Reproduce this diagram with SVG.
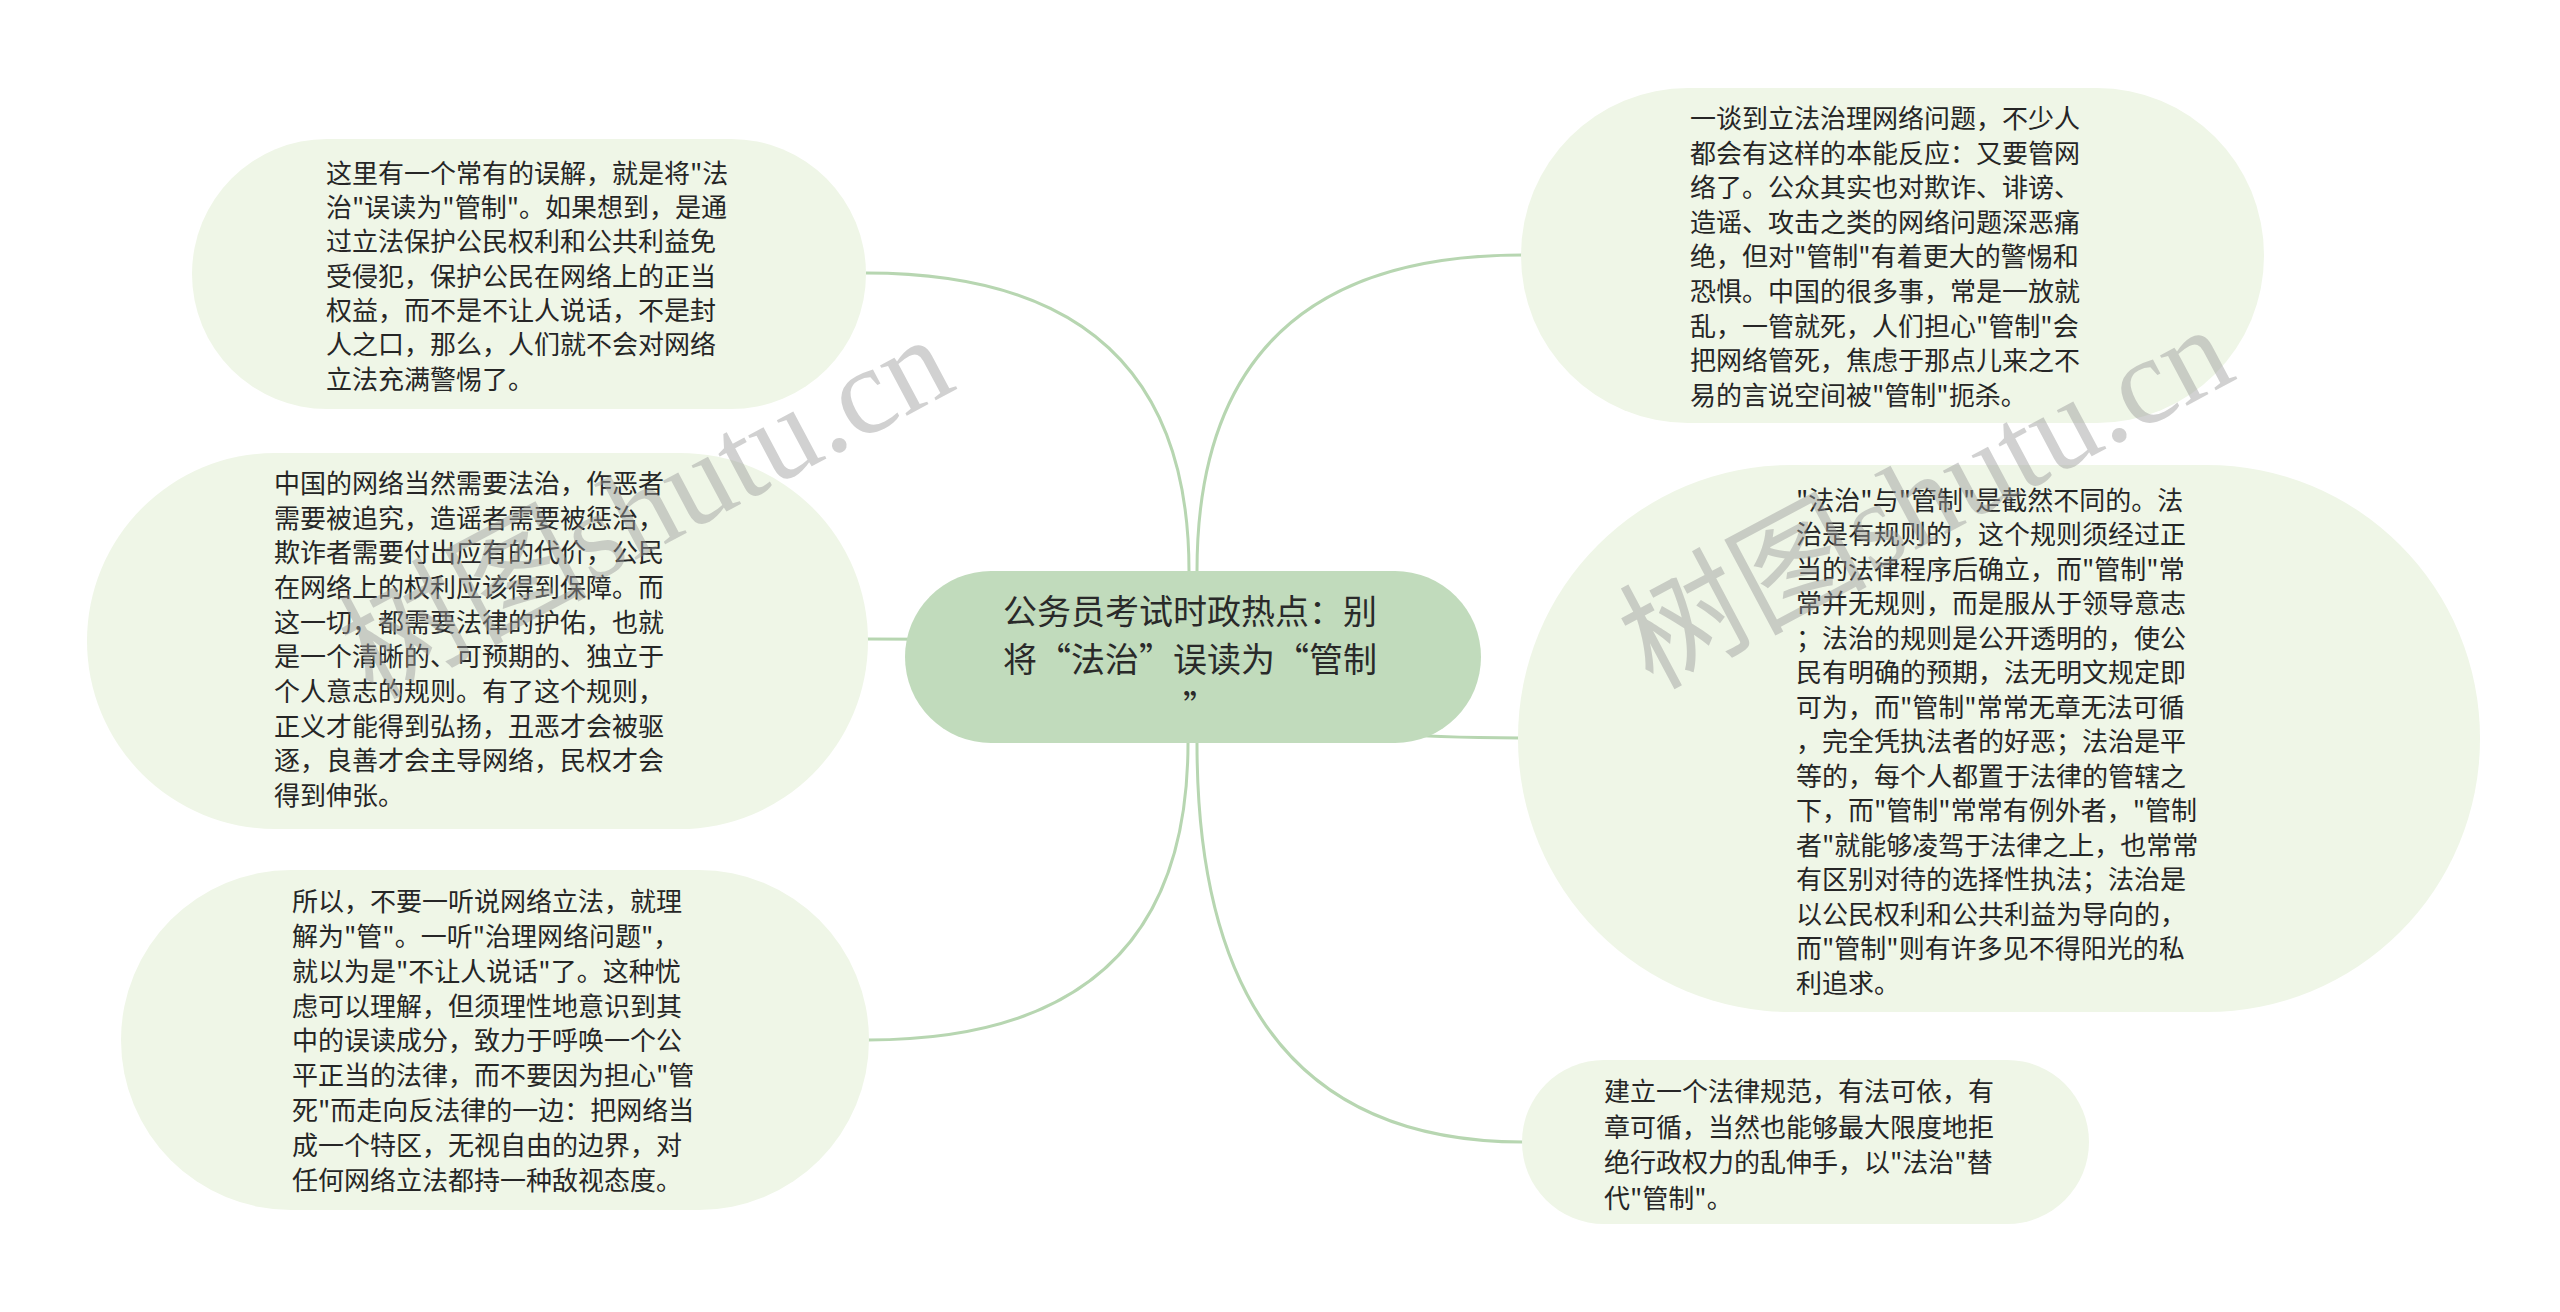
<svg xmlns="http://www.w3.org/2000/svg" width="2560" height="1312" viewBox="0 0 2560 1312">
<style>
.leaf{fill:#eff6e7;}
.root{fill:#c1dbbc;}
.t{font-family:"Noto Sans CJK SC","Noto Sans",sans-serif;font-size:26px;fill:#262626;}
.rt{font-family:"Noto Sans CJK SC","Noto Sans",sans-serif;font-size:34px;fill:#2a2a2a;text-anchor:middle;}
.c{fill:none;stroke:#b7d6b1;stroke-width:3;}
.wm{font-family:"Liberation Serif","Noto Sans CJK SC",serif;font-size:124px;fill:#9a9a9a;opacity:0.45;}
</style>
<rect width="2560" height="1312" fill="#ffffff"/>
<g id="connectors">
<path class="c" d="M1189 571 Q1189 273 866 273"/>
<path class="c" d="M1189 657 Q1189 639 867 639"/>
<path class="c" d="M1188 743 Q1188 1040 868 1040"/>
<path class="c" d="M1197 571 Q1197 255 1522 255"/>
<path class="c" d="M1197 657 Q1197 738 1520 738"/>
<path class="c" d="M1197 743 Q1197 1142 1523 1142"/>
</g>
<g id="root">
<rect class="root" x="905" y="571" width="576" height="172" rx="86"/>
<text class="rt" x="1190" y="624">公务员考试时政热点：别</text>
<text class="rt" x="1190" y="672">将“法治”误读为“管制</text>
<text class="rt" x="1200" y="720">”</text>
</g>
<g id="node-lt">
<rect class="leaf" x="192" y="139" width="674" height="270" rx="135"/>
<text class="t" x="326" y="183">这里有一个常有的误解，就是将"法</text>
<text class="t" x="326" y="217">治"误读为"管制"。如果想到，是通</text>
<text class="t" x="326" y="251">过立法保护公民权利和公共利益免</text>
<text class="t" x="326" y="286">受侵犯，保护公民在网络上的正当</text>
<text class="t" x="326" y="320">权益，而不是不让人说话，不是封</text>
<text class="t" x="326" y="354">人之口，那么，人们就不会对网络</text>
<text class="t" x="326" y="389">立法充满警惕了。</text>
</g>
<g id="node-lm">
<rect class="leaf" x="87" y="453" width="781" height="376" rx="188"/>
<text class="t" x="274" y="493">中国的网络当然需要法治，作恶者</text>
<text class="t" x="274" y="528">需要被追究，造谣者需要被惩治，</text>
<text class="t" x="274" y="562">欺诈者需要付出应有的代价，公民</text>
<text class="t" x="274" y="597">在网络上的权利应该得到保障。而</text>
<text class="t" x="274" y="632">这一切，都需要法律的护佑，也就</text>
<text class="t" x="274" y="666">是一个清晰的、可预期的、独立于</text>
<text class="t" x="274" y="701">个人意志的规则。有了这个规则，</text>
<text class="t" x="274" y="736">正义才能得到弘扬，丑恶才会被驱</text>
<text class="t" x="274" y="770">逐，良善才会主导网络，民权才会</text>
<text class="t" x="274" y="805">得到伸张。</text>
</g>
<g id="node-lb">
<rect class="leaf" x="121" y="870" width="748" height="340" rx="170"/>
<text class="t" x="292" y="911">所以，不要一听说网络立法，就理</text>
<text class="t" x="292" y="946">解为"管"。一听"治理网络问题"，</text>
<text class="t" x="292" y="981">就以为是"不让人说话"了。这种忧</text>
<text class="t" x="292" y="1016">虑可以理解，但须理性地意识到其</text>
<text class="t" x="292" y="1050">中的误读成分，致力于呼唤一个公</text>
<text class="t" x="292" y="1085">平正当的法律，而不要因为担心"管</text>
<text class="t" x="292" y="1120">死"而走向反法律的一边：把网络当</text>
<text class="t" x="292" y="1155">成一个特区，无视自由的边界，对</text>
<text class="t" x="292" y="1190">任何网络立法都持一种敌视态度。</text>
</g>
<g id="node-rt">
<rect class="leaf" x="1521" y="88" width="743" height="335" rx="167"/>
<text class="t" x="1690" y="128">一谈到立法治理网络问题，不少人</text>
<text class="t" x="1690" y="163">都会有这样的本能反应：又要管网</text>
<text class="t" x="1690" y="197">络了。公众其实也对欺诈、诽谤、</text>
<text class="t" x="1690" y="232">造谣、攻击之类的网络问题深恶痛</text>
<text class="t" x="1690" y="266">绝，但对"管制"有着更大的警惕和</text>
<text class="t" x="1690" y="301">恐惧。中国的很多事，常是一放就</text>
<text class="t" x="1690" y="336">乱，一管就死，人们担心"管制"会</text>
<text class="t" x="1690" y="370">把网络管死，焦虑于那点儿来之不</text>
<text class="t" x="1690" y="405">易的言说空间被"管制"扼杀。</text>
</g>
<g id="node-rm">
<rect class="leaf" x="1518" y="465" width="962" height="547" rx="273"/>
<text class="t" x="1796" y="510">"法治"与"管制"是截然不同的。法</text>
<text class="t" x="1796" y="544">治是有规则的，这个规则须经过正</text>
<text class="t" x="1796" y="579">当的法律程序后确立，而"管制"常</text>
<text class="t" x="1796" y="613">常并无规则，而是服从于领导意志</text>
<text class="t" x="1796" y="648">；法治的规则是公开透明的，使公</text>
<text class="t" x="1796" y="682">民有明确的预期，法无明文规定即</text>
<text class="t" x="1796" y="717">可为，而"管制"常常无章无法可循</text>
<text class="t" x="1796" y="751">，完全凭执法者的好恶；法治是平</text>
<text class="t" x="1796" y="786">等的，每个人都置于法律的管辖之</text>
<text class="t" x="1796" y="820">下，而"管制"常常有例外者，"管制</text>
<text class="t" x="1796" y="855">者"就能够凌驾于法律之上，也常常</text>
<text class="t" x="1796" y="889">有区别对待的选择性执法；法治是</text>
<text class="t" x="1796" y="924">以公民权利和公共利益为导向的，</text>
<text class="t" x="1796" y="958">而"管制"则有许多见不得阳光的私</text>
<text class="t" x="1796" y="993">利追求。</text>
</g>
<g id="node-rb">
<rect class="leaf" x="1522" y="1060" width="567" height="164" rx="82"/>
<text class="t" x="1604" y="1101">建立一个法律规范，有法可依，有</text>
<text class="t" x="1604" y="1137">章可循，当然也能够最大限度地拒</text>
<text class="t" x="1604" y="1172">绝行政权力的乱伸手，以"法治"替</text>
<text class="t" x="1604" y="1208">代"管制"。</text>
</g>
<g id="watermark">
<text class="wm" transform="translate(372 700) rotate(-28)">树图shutu.cn</text>
<text class="wm" transform="translate(1652 690) rotate(-28)">树图shutu.cn</text>
</g>
</svg>
